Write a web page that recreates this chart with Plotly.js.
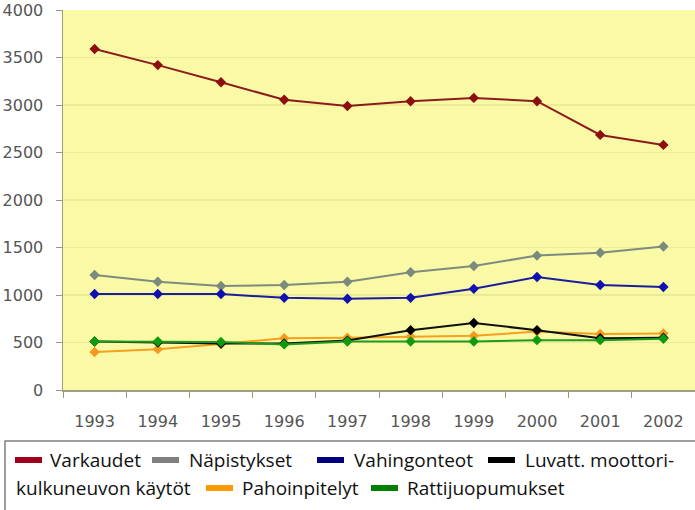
<!DOCTYPE html>
<html><head><meta charset="utf-8">
<script src="https://cdn.plot.ly/plotly-3.0.1.min.js"></script>
<style>html,body{margin:0;padding:0;background:#fff}</style>
</head><body>
<div id="chart" style="width:695px;height:510px"></div>
<script>
const years = ['1993','1994','1995','1996','1997','1998','1999','2000','2001','2002'];
const varkaudet = [3590, 3420, 3240, 3055, 2990, 3040, 3075, 3040, 2685, 2580];
const napistykset = [1210, 1140, 1095, 1105, 1140, 1240, 1305, 1415, 1445, 1510];
const vahingonteot = [1010, 1010, 1010, 970, 960, 970, 1065, 1190, 1105, 1085];
const luvatt = [510, 500, 490, 490, 520, 630, 705, 630, 545, 550];
const pahoinpitelyt = [400, 430, 485, 545, 550, 560, 570, 615, 590, 595];
const rattijuopumukset = [510, 510, 505, 480, 510, 510, 510, 525, 525, 540];
const seriesNames = ['Varkaudet', 'Näpistykset', 'Vahingonteot', 'Luvatt. moottori-kulkuneuvon käytöt', 'Pahoinpitelyt', 'Rattijuopumukset'];
const seriesValues = [varkaudet, napistykset, vahingonteot, luvatt, pahoinpitelyt, rattijuopumukset];
const lineColors = ['#8c1c1c', '#7f8a80', '#1c1ca0', '#101010', '#f5a020', '#1f9a1f'];
const markerColors = ['#8c0e0e', '#7a8a7c', '#1010b0', '#000000', '#f59a20', '#0f9a0f'];
const swatchColors = ['#a0001e', '#808080', '#000080', '#000000', '#ff9900', '#008000'];

const order = [0, 1, 2, 4, 3, 5];
const traces = order.map(i => ({
  x: years, y: seriesValues[i], name: seriesNames[i], type: 'scatter', mode: 'lines+markers',
  line: {color: lineColors[i], width: 2},
  marker: {symbol: 'diamond', size: 8, color: markerColors[i]},
  showlegend: false
}));

const W = 695, H = 510, L = 63, R = 0, T = 10, B = 120;
const pw = W - L - R, ph = H - T - B;
const px = x => (x - L) / pw;
const py = y => (H - B - y) / ph;

// manual legend (text wraps inside an entry, as in the original)
const legendItems = [
  {sw: 15, tx: 48, y: 460, text: seriesNames[0], c: 0},
  {sw: 152, tx: 187, y: 460, text: seriesNames[1], c: 1},
  {sw: 317, tx: 352, y: 460, text: seriesNames[2], c: 2},
  {sw: 488, tx: 523, y: 460, text: 'Luvatt. moottori-', c: 3},
  {sw: null, tx: 14, y: 488, text: 'kulkuneuvon käytöt', c: null},
  {sw: 206, tx: 240, y: 488, text: seriesNames[4], c: 4},
  {sw: 371, tx: 405, y: 488, text: seriesNames[5], c: 5}
];
const shapes = [{
  type: 'rect', xref: 'paper', yref: 'paper',
  x0: px(5), x1: px(702), y0: py(441), y1: py(515),
  line: {color: '#808080', width: 1.5}, fillcolor: 'rgba(0,0,0,0)'
}];
const annotations = [];
legendItems.forEach(it => {
  if (it.sw !== null) {
    shapes.push({type: 'rect', xref: 'paper', yref: 'paper',
      x0: px(it.sw), x1: px(it.sw + 27), y0: py(it.y + 3), y1: py(it.y - 3),
      line: {width: 0}, fillcolor: swatchColors[it.c]});
  }
  annotations.push({xref: 'paper', yref: 'paper', x: px(it.tx), y: py(it.y),
    xanchor: 'left', yanchor: 'middle', showarrow: false, text: it.text,
    font: {family: 'Open Sans, Liberation Sans, sans-serif', size: 19, color: '#111'}});
});

const tickFont = {family: 'DejaVu Sans, Verdana, sans-serif', size: 16, color: '#555'};
const layout = {
  width: W, height: H,
  margin: {l: L, r: R, t: T, b: B},
  paper_bgcolor: '#ffffff', plot_bgcolor: '#fafaa6',
  showlegend: false,
  xaxis: {type: 'category', range: [-0.5, 9.5], tickson: 'boundaries', ticks: 'outside', ticklen: 6,
    tickcolor: '#999980', showline: true, linecolor: '#a0a080', linewidth: 1.5, showgrid: false,
    tickfont: tickFont, ticklabelstandoff: 16},
  yaxis: {range: [0, 4000], dtick: 500, ticks: 'outside', ticklen: 6, tickcolor: '#999980',
    showline: true, linecolor: '#a0a080', linewidth: 1.5, gridcolor: '#ebeb96', gridwidth: 1.5, zeroline: false,
    tickfont: tickFont, ticklabelstandoff: 9},
  shapes: shapes, annotations: annotations
};
Plotly.newPlot('chart', traces, layout, {displayModeBar: false, staticPlot: true});
</script>
</body></html>
